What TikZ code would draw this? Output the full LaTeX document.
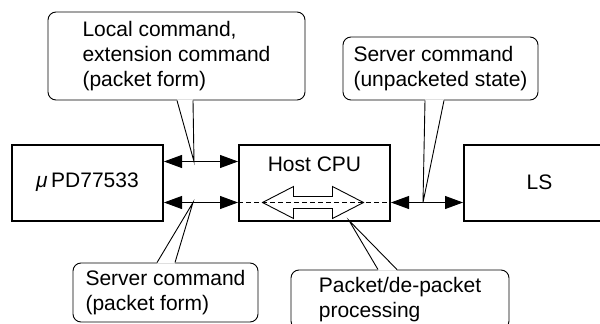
\documentclass[tikz,border=0pt]{standalone}
\usepackage{fontspec}
\setmainfont{Liberation Sans}
\usetikzlibrary{arrows.meta, positioning, calc}

\begin{document}
\begin{tikzpicture}[
	x=1pt, y=-1pt,
	font=\fontsize{21}{25}\selectfont,
	>={Triangle[length=18pt, width=13pt]},
	block/.style={draw, rectangle, line width=2pt, minimum height=76pt, minimum width=151pt, inner sep=0pt},
	note/.style={draw, rectangle, line width=0.9pt, rounded corners=8pt, fill=white, align=left, inner sep=0pt},
	link/.style={<->, line width=0.9pt},
	tail/.style={line width=0.9pt}
	]
	\clip[use as bounding box] (0,0) rectangle (600,324);
	
	% --- Bloki ---
	\node[block] (upd) at (87.5,182.5) {\textit{μ}\,PD77533}; % Procesor mowy
	\node[block, right=74pt of upd] (host) {}; % Procesor nadrzedny
	\node[inner sep=0pt, below=13pt of host.north] (cpu) {Host CPU};
	\node[block, right=72pt of host] (ls) {LS}; % Serwer
	
	% --- Polaczenia ---
	\draw[link] ([yshift=21pt]upd.east) -- ([yshift=21pt]host.west);
	\draw[link] ([yshift=-20pt]upd.east) -- ([yshift=-20pt]host.west);
	\draw[link] ([yshift=-20pt]host.east) -- ([yshift=-20pt]ls.west);
	
	% --- Pakietowanie wewnatrz Host CPU ---
	\draw[line width=0.9pt, fill=white] ($(host.center)+(-52,20)$) -- ++(31,-16) -- ++(0,10) -- ++(39,0) -- ++(0,-10) -- ++(31,16)
		-- ++(-31,16) -- ++(0,-10) -- ++(-39,0) -- ++(0,10) -- cycle;
	\draw[line width=0.8pt, dash pattern=on 5pt off 3pt] ([yshift=-20pt]host.west) -- ([yshift=-20pt]host.east);
	
	% --- Opisy (dymki) ---
	\node[note, minimum width=257pt, minimum height=88pt] (cmd) at (176.5,56) {Local command,\\extension command\\(packet form)};
	\node[note, minimum width=195pt, minimum height=63pt] (srv) at (440.5,68.5) {Server command\\(unpacketed state)};
	\node[note, minimum width=185pt, minimum height=59pt] (pkt) at (165.5,292.5) {Server command\\(packet form)};
	\node[note, minimum width=218pt, minimum height=59pt] (proc) at (400,299.5) {Packet/de-packet\\processing};
	
	\coordinate (tipa) at (194,161.5);
	\coordinate (tipb) at (423,202.5);
	\coordinate (tipc) at (193,202.5);
	\coordinate (tipd) at (349,220.5);
	
	% --- Wskazniki dymkow ---
	\fill[white] ($(cmd.south)+(0.5,-1)$) -- (tipa) -- ($(cmd.south)+(16.5,-1)$) -- cycle;
	\draw[tail] ($(cmd.south)+(0.5,0)$) -- (tipa) -- ($(cmd.south)+(16.5,0)$);
	\fill[white] ($(srv.south)+(-15.5,-1)$) -- (tipb) -- ($(srv.south)+(3.5,-1)$) -- cycle;
	\draw[tail] ($(srv.south)+(-15.5,0)$) -- (tipb) -- ($(srv.south)+(3.5,0)$);
	\fill[white] ($(pkt.north)+(-8.5,1)$) -- (tipc) -- ($(pkt.north)+(9.5,1)$) -- cycle;
	\draw[tail] ($(pkt.north)+(-8.5,0)$) -- (tipc) -- ($(pkt.north)+(9.5,0)$);
	\fill[white] ($(proc.north)+(-22,1)$) -- (tipd) -- ($(proc.north)+(-3,1)$) -- cycle;
	\draw[tail] ($(proc.north)+(-22,0)$) -- (tipd) -- ($(proc.north)+(-3,0)$);
	
\end{tikzpicture}
\end{document}
